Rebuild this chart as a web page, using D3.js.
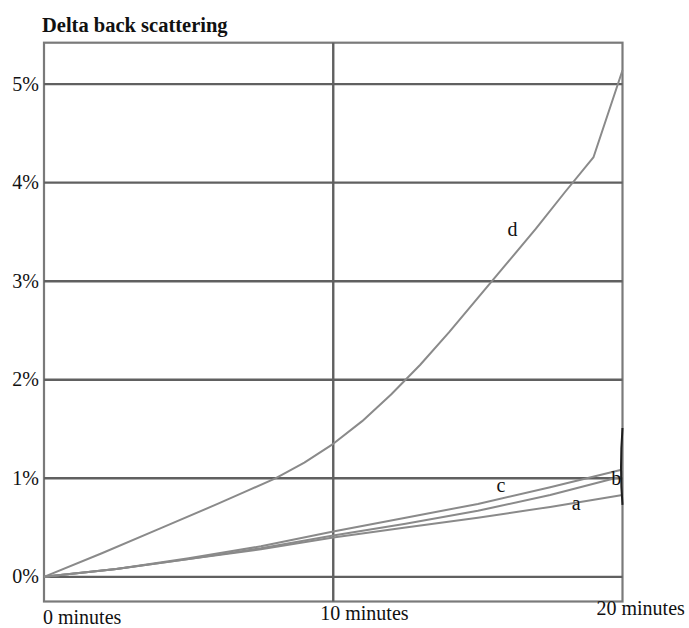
<!DOCTYPE html>
<html>
<head>
<meta charset="utf-8">
<script src="https://cdn.jsdelivr.net/npm/d3@7"></script>
<style>
  body { margin: 0; background: #fff; }
  svg { display: block; }
  text { font-family: "Liberation Serif", "DejaVu Serif", serif; fill: #111; }
</style>
</head>
<body>
<div id="chart"></div>
<script>
// values (minutes, % delta back scattering)
const title = "Delta back scattering";
const yTicks = [0, 1, 2, 3, 4, 5];
const yTickLabels = ["0%", "1%", "2%", "3%", "4%", "5%"];
const xTicks = [0, 10, 20];
const xTickLabels = ["0 minutes", "10 minutes", "20 minutes"];

const timesABC = [0, 2.5, 5, 7.5, 10, 12.5, 15, 17.5, 20];
const seriesA = [0, 0.08, 0.18, 0.28, 0.40, 0.50, 0.60, 0.71, 0.83];
const seriesB = [0, 0.08, 0.18, 0.29, 0.42, 0.54, 0.67, 0.83, 1.02];
const seriesC = [0, 0.08, 0.19, 0.31, 0.46, 0.60, 0.74, 0.91, 1.09];

const timesD = [0, 2, 4, 6, 7, 8, 9, 10, 11, 12, 13, 14, 15, 16, 17, 18, 19, 20];
const seriesD = [0, 0.24, 0.49, 0.74, 0.87, 1.0, 1.16, 1.35, 1.58, 1.85, 2.15, 2.48, 2.83, 3.18, 3.53, 3.9, 4.26, 5.14];

const seriesNames = ["a", "b", "c", "d"];

const width = 689, height = 628;

const x = d3.scaleLinear().domain([0, 20]).range([44, 622.5]);
const y = d3.scaleLinear().domain([-0.25, 5.42]).range([601.5, 42.7]);

const svg = d3.select("#chart").append("svg")
  .attr("width", width)
  .attr("height", height);

// title
svg.append("text")
  .attr("x", 42)
  .attr("y", 32)
  .style("font-size", "20.5px")
  .style("font-weight", "bold")
  .text(title);

// frame
svg.append("rect")
  .attr("x", x(0))
  .attr("y", y(5.42))
  .attr("width", x(20) - x(0))
  .attr("height", y(-0.25) - y(5.42))
  .attr("fill", "none")
  .attr("stroke", "#7a7a7a")
  .attr("stroke-width", 2.2);

// horizontal grid
svg.append("g")
  .selectAll("line")
  .data(yTicks)
  .join("line")
  .attr("x1", x(0))
  .attr("x2", x(20))
  .attr("y1", d => y(d))
  .attr("y2", d => y(d))
  .attr("stroke", "#606060")
  .attr("stroke-width", 2.4);

// vertical grid at 10 minutes
svg.append("line")
  .attr("x1", x(10)).attr("x2", x(10))
  .attr("y1", y(5.42)).attr("y2", y(-0.25))
  .attr("stroke", "#606060")
  .attr("stroke-width", 2.4);

// y tick labels
svg.append("g")
  .selectAll("text")
  .data(yTicks)
  .join("text")
  .attr("x", 39)
  .attr("y", d => y(d))
  .attr("dy", "0.33em")
  .attr("text-anchor", "end")
  .style("font-size", "20px")
  .text((d, i) => yTickLabels[i]);

// x tick labels (staggered as in the original)
const xLabelPos = [
  { dx: -1, y: 624 },
  { dx: -13, y: 620 },
  { dx: -26, y: 615 }
];
svg.append("g")
  .selectAll("text")
  .data(xTicks)
  .join("text")
  .attr("x", (d, i) => x(d) + xLabelPos[i].dx)
  .attr("y", (d, i) => xLabelPos[i].y)
  .style("font-size", "20px")
  .text((d, i) => xTickLabels[i]);

// series lines
const line = d3.line().x(d => x(d[0])).y(d => y(d[1]));
const series = [
  timesABC.map((t, i) => [t, seriesA[i]]),
  timesABC.map((t, i) => [t, seriesB[i]]),
  timesABC.map((t, i) => [t, seriesC[i]]),
  timesD.map((t, i) => [t, seriesD[i]])
];

svg.append("g")
  .selectAll("path")
  .data(series)
  .join("path")
  .attr("d", line)
  .attr("fill", "none")
  .attr("stroke", "#8a8a8a")
  .attr("stroke-width", 2)
  .attr("stroke-linejoin", "round");

// dark mark on the right edge
svg.append("path")
  .attr("d", `M${x(20)},${y(1.51)} Q${x(20) - 3},${y(1.1)} ${x(20)},${y(0.73)}`)
  .attr("fill", "none")
  .attr("stroke", "#1e1e1e")
  .attr("stroke-width", 2);

// series labels
const labelSpots = [
  { t: 18.4, v: 0.68 },
  { t: 19.78, v: 0.93 },
  { t: 15.8, v: 0.86 },
  { t: 16.2, v: 3.46 }
];
svg.append("g")
  .selectAll("text")
  .data(seriesNames)
  .join("text")
  .attr("x", (d, i) => x(labelSpots[i].t))
  .attr("y", (d, i) => y(labelSpots[i].v))
  .attr("text-anchor", "middle")
  .style("font-size", "20px")
  .text(d => d);
</script>
</body>
</html>
